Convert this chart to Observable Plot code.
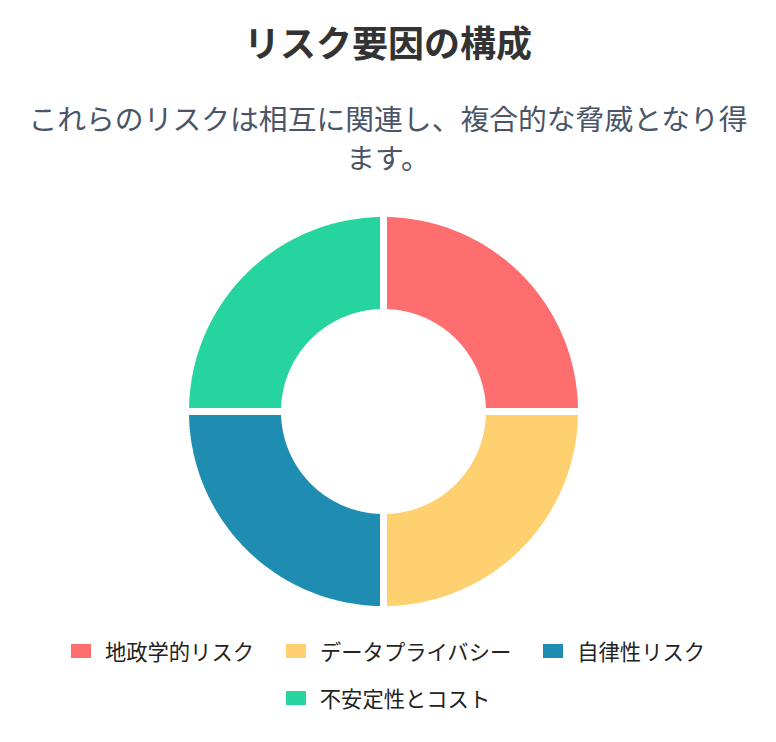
<!DOCTYPE html>
<html><head><meta charset="utf-8">
<script src="https://cdn.jsdelivr.net/npm/d3@7"></script>
<script src="https://cdn.jsdelivr.net/npm/@observablehq/plot@0.6"></script>
<style>
body{margin:0;background:#fff;font-family:"Noto Sans CJK JP","Noto Sans",sans-serif;width:776px;}
#title{margin:20px 0 0 0;text-align:center;font-size:36px;line-height:43px;font-weight:700;color:#333;}
#sub{margin:35px auto 0 auto;width:740px;text-align:center;font-size:28.8px;line-height:39px;color:#4a5568;}
#chart{margin-top:30px;height:410px;}
#chart svg{display:block;}
#legend{margin:21px auto 0 auto;width:700px;display:flex;flex-wrap:wrap;justify-content:center;column-gap:32px;row-gap:19px;}
.item{display:flex;align-items:center;font-size:21.3px;line-height:28px;color:#222;}
.sw{width:20px;height:14px;margin-right:14px;}
</style></head>
<body>
<div id="title">リスク要因の構成</div>
<div id="sub">これらのリスクは相互に関連し、複合的な脅威となり得ます。</div>
<div id="chart"></div>
<div id="legend"></div>
<script>
const categories = ["地政学的リスク", "データプライバシー", "自律性リスク", "不安定性とコスト"];
const values = [25, 25, 25, 25];
const colors = ["#FF6E6E", "#FFD06F", "#1F8CB1", "#26D4A0"];

const W = 776, H = 410;
const R = 198, r0 = 99;
const pie = d3.pie().sort(null).value(d => d.value);
const arcs = pie(categories.map((c, i) => ({category: c, value: values[i]})));

// polygon outline of each ring segment (geometry derived from the data angles)
const pts = [];
for (const a of arcs) {
  const n = 90;
  for (let k = 0; k <= n; k++) {
    const t = a.startAngle + (a.endAngle - a.startAngle) * k / n;
    pts.push({category: a.data.category, x: R * Math.sin(t), y: -R * Math.cos(t)});
  }
  for (let k = n; k >= 0; k--) {
    const t = a.startAngle + (a.endAngle - a.startAngle) * k / n;
    pts.push({category: a.data.category, x: r0 * Math.sin(t), y: -r0 * Math.cos(t)});
  }
}

const plot = Plot.plot({
  width: W, height: H,
  margin: 0,
  x: {domain: [-W/2 + 5, W/2 + 5], axis: null},
  y: {domain: [-H/2, H/2], range: [0, H], axis: null},
  color: {domain: categories, range: colors},
  marks: [
    Plot.line(pts, {x: "x", y: "y", z: "category", fill: "category", stroke: "white", strokeWidth: 7, curve: "linear-closed", strokeLinejoin: "miter"})
  ]
});
document.getElementById("chart").appendChild(plot);

const lg = document.getElementById("legend");
categories.forEach((c, i) => {
  const it = document.createElement("div"); it.className = "item";
  const sw = document.createElement("span"); sw.className = "sw"; sw.style.background = colors[i];
  const tx = document.createElement("span"); tx.textContent = c;
  it.appendChild(sw); it.appendChild(tx); lg.appendChild(it);
});
</script>
</body></html>
